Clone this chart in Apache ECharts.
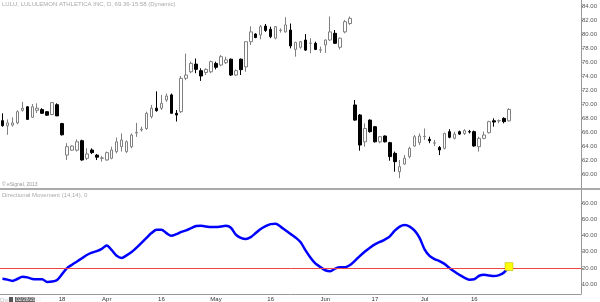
<!DOCTYPE html>
<html><head><meta charset="utf-8">
<script src="https://cdn.jsdelivr.net/npm/echarts@6/dist/echarts.min.js"></script>
<style>html,body{margin:0;padding:0;background:#fff}#c{width:600px;height:302px}</style>
</head><body><div id="c"></div>
<script>
// ---- data ----
const firstDate = '2013-02-28';
const holidays = ['2013-03-29','2013-05-27','2013-07-04'];
const slotCount = 117;
const tickDates = ['2013-03-18','2013-04-01','2013-04-16','2013-05-01','2013-05-16','2013-06-03','2013-06-17','2013-07-01','2013-07-16'];
const tickTexts = ['18','Apr','16','May','16','Jun','17','Jul','16'];
const priceTicks = [60,62,64,66,68,70,72,74,76,78,80,82,84];
const dmiTicks = [10,20,30,40,50,60];
const dmiRef = 20;

const opens = [67.62,66.90,66.99,67.30,69.10,69.60,68.10,69.10,69.20,68.90,68.50,69.90,67.20,62.70,63.40,63.40,64.76,62.24,63.43,62.70,
62.24,62.00,62.24,63.20,63.90,63.20,63.90,65.85,66.30,66.50,68.20,69.40,69.40,70.57,71.30,68.67,68.90,73.67,74.60,75.70,
74.76,74.50,74.60,75.80,75.57,75.90,76.40,74.14,76.40,75.30,78.90,80.00,79.86,81.14,80.67,79.40,80.50,80.30,80.57,77.80,
78.10,79.14,78.67,78.67,77.70,78.43,79.14,80.10,78.10,80.30,81.50,69.86,68.43,64.60,67.70,66.76,64.60,65.43,64.48,62.95,
60.33,61.43,62.48,64.00,64.48,65.33,64.95,64.40,63.80,63.67,66.05,65.10,66.05,65.80,66.05,66.05,63.90,65.10,65.90,67.60,
67.60,67.95,67.60];
const closes = [66.90,67.30,67.30,68.90,69.40,67.80,69.60,69.40,68.67,68.40,70.20,68.30,65.60,63.90,64.00,64.60,62.00,62.86,63.05,62.40,
62.30,63.05,63.43,64.60,64.86,64.60,65.57,65.95,66.40,68.67,69.40,69.05,70.10,71.14,68.67,68.43,73.67,74.14,75.80,74.95,
74.00,74.95,76.05,75.24,76.76,76.30,74.14,74.76,74.90,78.90,80.30,79.50,81.05,80.50,79.62,81.05,80.55,81.30,78.30,78.80,
78.90,77.70,78.70,77.80,77.75,79.14,80.30,78.67,79.40,81.76,82.24,67.70,64.14,66.50,66.05,64.60,65.33,64.60,62.48,61.76,
61.05,62.24,63.67,65.33,65.43,65.38,64.76,64.45,63.43,65.80,65.24,65.70,65.70,66.20,66.00,64.00,65.10,65.57,67.48,67.43,
67.62,67.48,69.21];
const lows = [66.76,65.60,66.76,67.10,68.90,67.80,68.00,68.70,68.60,68.30,68.40,68.30,65.50,62.00,63.30,63.20,61.90,62.00,62.86,62.00,
61.76,61.90,62.10,62.95,63.20,63.00,63.67,65.30,66.05,66.30,67.95,68.90,69.14,70.30,68.67,67.50,68.70,73.40,74.40,74.40,
73.30,74.14,74.40,74.95,75.40,75.70,74.00,74.00,74.14,74.60,78.43,79.40,79.24,80.30,79.40,79.24,80.20,80.20,77.95,76.76,
77.90,77.60,77.24,77.70,77.30,77.30,79.05,78.57,77.80,80.10,81.30,67.60,63.33,63.90,65.90,64.50,64.40,64.50,61.90,60.33,
59.40,61.30,62.24,63.90,64.14,64.86,64.40,64.00,62.70,63.50,65.10,64.95,65.57,65.57,65.80,63.90,63.20,64.95,65.80,66.76,
67.24,67.24,67.50];
const highs = [68.67,67.80,68.10,69.10,70.30,69.70,70.00,70.10,69.40,69.00,70.30,70.10,67.30,64.40,64.10,64.95,64.90,63.67,63.67,62.86,
62.60,63.20,63.90,65.20,65.80,64.80,65.80,67.30,66.76,68.90,69.86,71.80,71.30,71.50,71.50,69.14,74.00,77.20,76.05,76.50,
75.10,75.10,76.20,76.05,77.00,76.76,76.50,74.95,76.50,78.90,81.10,80.10,81.30,81.43,81.05,81.14,80.80,82.40,81.50,78.90,
79.00,80.00,79.40,78.90,78.20,79.24,82.50,80.57,79.50,82.00,82.50,70.57,68.57,67.24,67.80,66.86,65.43,65.50,64.60,63.20,
62.00,62.70,63.90,65.57,65.80,66.50,65.33,64.86,64.00,65.90,66.40,66.05,66.20,66.40,66.30,66.20,65.33,66.05,67.60,67.95,
67.80,68.10,69.40];
const dmi = [13.4,12.8,12.0,13.2,14.6,14.2,13.2,13.0,13.0,11.4,11.6,12.6,16.2,19.9,22.0,24.0,26.0,28.0,29.4,30.4,
31.8,33.8,31.0,27.5,26.2,27.8,29.8,32.5,35.5,38.5,41.5,43.5,43.6,41.5,39.8,40.8,42.2,43.2,44.5,45.8,
46.0,45.6,45.2,45.2,45.6,46.0,44.8,40.5,38.5,37.8,39.0,41.5,44.0,45.8,47.0,47.2,45.5,43.2,41.0,38.8,
36.0,31.0,26.5,22.8,20.6,18.6,18.0,19.6,20.4,20.4,21.8,24.5,27.5,30.2,32.5,34.5,36.0,37.5,39.5,43.0,
45.5,46.4,45.5,43.0,38.5,31.5,27.5,25.5,24.2,22.5,20.0,17.8,15.8,14.0,12.8,13.0,15.2,15.8,15.4,15.0,
15.6,17.2,20.84];

// ---- build categories (trading days) ----
function fmt(d){return d.getUTCFullYear()+'-'+String(d.getUTCMonth()+1).padStart(2,'0')+'-'+String(d.getUTCDate()).padStart(2,'0');}
const dates = [];
let d = new Date(firstDate+'T00:00:00Z');
while (dates.length < slotCount) {
  const s = fmt(d), w = d.getUTCDay();
  if (w !== 0 && w !== 6 && holidays.indexOf(s) < 0) dates.push(s);
  d = new Date(d.getTime() + 86400000);
}
const ohlc = opens.map((o,i)=>[o, closes[i], lows[i], highs[i]]);
const last = dmi.length - 1;
const FONT = 'Liberation Sans';

const chart = echarts.init(document.getElementById('c'), null, {renderer:'canvas'});
chart.setOption({
  animation:false,
  backgroundColor:'#fff',
  textStyle:{fontFamily:FONT},
  grid:[
    {left:0, right:14, top:0, height:188},
    {left:0, right:14, top:190, height:106}
  ],
  xAxis:[
    {type:'category', gridIndex:0, data:dates, boundaryGap:true,
     axisLine:{show:false}, axisTick:{show:false}, axisLabel:{show:false}, splitLine:{show:false}},
    {type:'category', gridIndex:1, data:dates, boundaryGap:true,
     axisLine:{show:true, lineStyle:{color:'#999', width:1}}, axisTick:{show:false},
     axisLabel:{show:true, fontSize:6, color:'#333', margin:2, fontFamily:FONT,
       interval:(idx, val)=>tickDates.indexOf(val) >= 0,
       formatter:(val)=>{const k = tickDates.indexOf(val); return k>=0 ? tickTexts[k] : '';}},
     splitLine:{show:false}}
  ],
  yAxis:[
    {type:'value', gridIndex:0, position:'right', min:58, max:84 + 6/7, scale:true,
     axisLine:{show:true, lineStyle:{color:'#999'}},
     axisTick:{show:true, length:2, lineStyle:{color:'#999'}, customValues:priceTicks},
     axisLabel:{show:true, fontSize:6, color:'#555', margin:1, fontFamily:FONT, customValues:priceTicks,
       formatter:(v)=>v.toFixed(2)},
     splitLine:{show:false}},
    {type:'value', gridIndex:1, position:'right', min:10 - 10/1.654, max:60 + 13.3/1.654,
     axisLine:{show:true, lineStyle:{color:'#999'}},
     axisTick:{show:true, length:2, lineStyle:{color:'#999'}, customValues:dmiTicks},
     axisLabel:{show:true, fontSize:6, color:'#555', margin:1, fontFamily:FONT, customValues:dmiTicks,
       formatter:(v)=>v.toFixed(2)},
     splitLine:{show:false}}
  ],
  series:[
    {type:'candlestick', xAxisIndex:0, yAxisIndex:0, data:ohlc, barWidth:3,
     itemStyle:{color:'#ffffff', color0:'#000000', borderColor:'#808080', borderColor0:'#000000', borderWidth:1},
     markLine:{symbol:['none','none'], silent:true, animation:false,
       lineStyle:{opacity:0},
       label:{show:true, position:'end', distance:3, fontSize:6, color:'#555', fontFamily:FONT,
         formatter:(p)=>closes[closes.length-1].toFixed(2)},
       data:[{yAxis:closes[closes.length-1]}]}},
    {type:'line', xAxisIndex:1, yAxisIndex:1, data:dmi, showSymbol:false, smooth:0.3,
     lineStyle:{color:'#0000ff', width:2.5}, itemStyle:{color:'#0000ff'},
     markLine:{symbol:['none','none'], silent:true, animation:false,
       data:[
         {yAxis:dmiRef, lineStyle:{color:'#ee4444', width:1, type:'solid', opacity:1}, label:{show:false}},
         {yAxis:dmi[last], lineStyle:{opacity:0},
          label:{show:true, position:'end', distance:1, fontSize:6, color:'#fff', backgroundColor:'#0000ff',
            padding:[1,1,0,1], fontFamily:FONT, formatter:()=>dmi[last].toFixed(2)}}
       ]},
     markPoint:{symbol:'rect', symbolSize:8, silent:true, animation:false,
       itemStyle:{color:'#ffff00', borderColor:'#b0b000', borderWidth:0.5},
       label:{show:false},
       data:[{coord:[last, dmi[last]]}]},
     z:3}
  ],
  graphic:[
    {type:'line', shape:{x1:0, y1:189, x2:600, y2:189}, style:{stroke:'#aaa', lineWidth:2}, silent:true},
    {type:'text', left:2, top:1, style:{text:'LULU, LULULEMON ATHLETICA INC, D, 69.36-15:58 (Dynamic)', fontSize:6, fill:'#aaa', fontFamily:FONT}},
    {type:'text', left:2, top:182, style:{text:'\u00a9 eSignal, 2013', fontSize:5, fill:'#999', fontFamily:FONT}},
    {type:'text', left:2, top:192, style:{text:'Directional Movement (14,14), 0', fontSize:6, fill:'#aaa', fontFamily:FONT}},
    {type:'text', left:0, top:297, style:{text:'Dym', fontSize:6, fill:'#bbb', fontFamily:FONT}},
    {type:'rect', shape:{x:9, y:297, width:4, height:5}, style:{fill:'#555'}},
    {type:'rect', shape:{x:15, y:297, width:20, height:5}, style:{fill:'#666'}},
    {type:'text', left:16, top:297, style:{text:'02/28/2013', fontSize:5, fill:'#eee', fontFamily:FONT}}
  ]
});
</script></body></html>
